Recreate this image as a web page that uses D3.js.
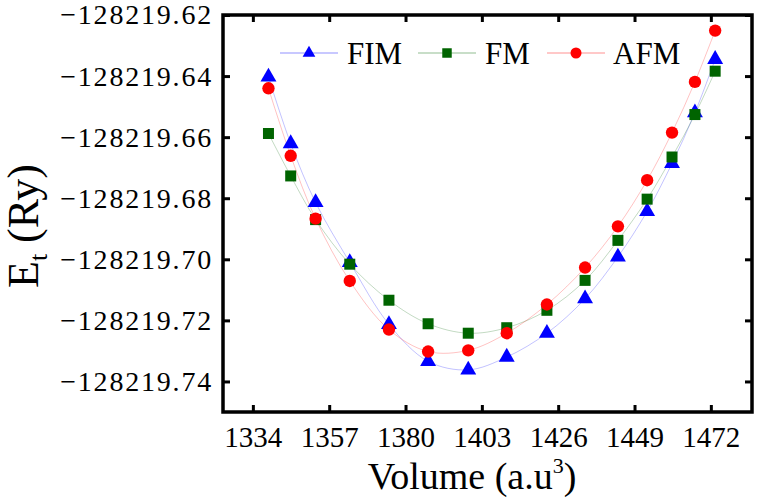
<!DOCTYPE html>
<html>
<head>
<meta charset="utf-8">
<script src="https://cdn.jsdelivr.net/npm/d3@7"></script>
<style>
  body { margin: 0; background: #fff; }
</style>
</head>
<body>
<svg id="chart" width="759" height="502"></svg>
<script>
// data
const volume = [1338.7, 1345.4, 1352.9, 1363.2, 1375.0, 1386.8, 1398.9, 1410.5, 1422.6, 1434.1, 1444.0, 1452.8, 1460.3, 1467.2, 1473.3];
const fim = [-128219.6403, -128219.6621, -128219.6814, -128219.7010, -128219.7213, -128219.7334, -128219.7362, -128219.7320, -128219.7242, -128219.7129, -128219.6992, -128219.6843, -128219.6686, -128219.6520, -128219.6345];
const fm  = [-128219.6588, -128219.6727, -128219.6870, -128219.7016, -128219.7134, -128219.7211, -128219.7242, -128219.7224, -128219.7167, -128219.7069, -128219.6938, -128219.6803, -128219.6665, -128219.6526, -128219.6384];
const afm = [-128219.6440, -128219.6661, -128219.6867, -128219.7071, -128219.7230, -128219.7302, -128219.7298, -128219.7242, -128219.7148, -128219.7027, -128219.6892, -128219.6741, -128219.6585, -128219.6419, -128219.6251];
const xTicks = [1334, 1357, 1380, 1403, 1426, 1449, 1472];
const yTicks = [-128219.62, -128219.64, -128219.66, -128219.68, -128219.70, -128219.72, -128219.74];

const FONT = '"Liberation Serif", "Times New Roman", serif';

const series = [
  { name: 'FIM', values: fim, color: '#0000ff', symbol: d3.symbolTriangle, size: 110, legendSize: 70 },
  { name: 'FM',  values: fm,  color: '#006400', symbol: d3.symbolSquare,   size: 121, legendSize: 90 },
  { name: 'AFM', values: afm, color: '#ff0000', symbol: d3.symbolCircle,   size: 120, legendSize: 95 }
];

const svg = d3.select('#chart').attr('font-family', FONT);
const L = 223, R = 752, T = 15, B = 412;

const x = d3.scaleLinear().domain([1325, 1484.4]).range([L, R]);
const y = d3.scaleLinear().domain([-128219.75, -128219.62]).range([B, T]);

// lines
const line = d3.line()
  .x((d, i) => x(volume[i]))
  .y(d => y(d))
  .curve(d3.curveCatmullRom);

series.forEach(s => {
  svg.append('path')
    .attr('d', line(s.values))
    .attr('fill', 'none')
    .attr('stroke', s.color)
    .attr('stroke-opacity', 0.3)
    .attr('stroke-width', 0.8);
});

// markers
series.forEach(s => {
  svg.append('g').selectAll('path')
    .data(s.values)
    .enter()
    .append('path')
    .attr('d', d3.symbol().type(s.symbol).size(s.size))
    .attr('transform', (d, i) => `translate(${x(volume[i])},${y(d)})`)
    .attr('fill', s.color);
});

// axes, ticks pointing inward on all four sides
const fmtY = d3.format('.2f');
const TICK = 7;

let axBottom = svg.append('g')
  .attr('transform', `translate(0,${B})`)
  .call(d3.axisBottom(x).tickValues(xTicks).tickSizeInner(-TICK).tickSizeOuter(0).tickPadding(14).tickFormat(d3.format('d')));
let axTop = svg.append('g')
  .attr('transform', `translate(0,${T})`)
  .call(d3.axisTop(x).tickValues(xTicks).tickSizeInner(-TICK).tickSizeOuter(0).tickFormat(''));
let axLeft = svg.append('g')
  .attr('transform', `translate(${L},0)`)
  .call(d3.axisLeft(y).tickValues(yTicks).tickSizeInner(-TICK).tickSizeOuter(0).tickPadding(10).tickFormat(fmtY));
let axRight = svg.append('g')
  .attr('transform', `translate(${R},0)`)
  .call(d3.axisRight(y).tickValues(yTicks).tickSizeInner(-TICK).tickSizeOuter(0).tickFormat(''));

[axBottom, axTop, axLeft, axRight].forEach(g => {
  g.attr('font-family', FONT);
  g.select('.domain').remove();
  g.selectAll('.tick line').attr('stroke', '#000').attr('stroke-width', 3);
});

axBottom.selectAll('.tick text')
  .attr('font-size', 29)
  .attr('fill', '#000')
  .attr('dy', '0.71em');
axLeft.selectAll('.tick text')
  .attr('font-size', 28)
  .attr('fill', '#000')
  .attr('letter-spacing', 1.8);

svg.append('rect')
  .attr('x', L).attr('y', T)
  .attr('width', R - L).attr('height', B - T)
  .attr('fill', 'none')
  .attr('stroke', '#000')
  .attr('stroke-width', 3.5);

// axis titles
let xt = svg.append('text')
  .attr('x', 472).attr('y', 489)
  .attr('text-anchor', 'middle')
  .attr('font-size', 38);
xt.append('tspan').text('Volume (a.u');
xt.append('tspan').attr('font-size', 22).attr('dy', -16).text('3');
xt.append('tspan').attr('dy', 16).text(')');

let yt = svg.append('text')
  .attr('transform', 'translate(38,226) rotate(-90)')
  .attr('text-anchor', 'middle')
  .attr('font-size', 44);
yt.append('tspan').text('E');
yt.append('tspan').attr('font-size', 26).attr('dy', 9).text('t');
yt.append('tspan').attr('dy', -9).text(' (Ry)');

// legend
const legendItems = [
  { s: series[0], x0: 280, tx: 347 },
  { s: series[1], x0: 418, tx: 485 },
  { s: series[2], x0: 547, tx: 613 }
];
const LY = 53;
legendItems.forEach(it => {
  svg.append('line')
    .attr('x1', it.x0).attr('x2', it.x0 + 58)
    .attr('y1', LY).attr('y2', LY)
    .attr('stroke', it.s.color)
    .attr('stroke-opacity', 0.55)
    .attr('stroke-width', 0.8);
  svg.append('path')
    .attr('d', d3.symbol().type(it.s.symbol).size(it.s.legendSize))
    .attr('transform', `translate(${it.x0 + 29},${LY})`)
    .attr('fill', it.s.color);
  svg.append('text')
    .attr('x', it.tx).attr('y', LY + 11)
    .attr('font-size', 31)
    .text(it.s.name);
});
</script>
</body>
</html>
